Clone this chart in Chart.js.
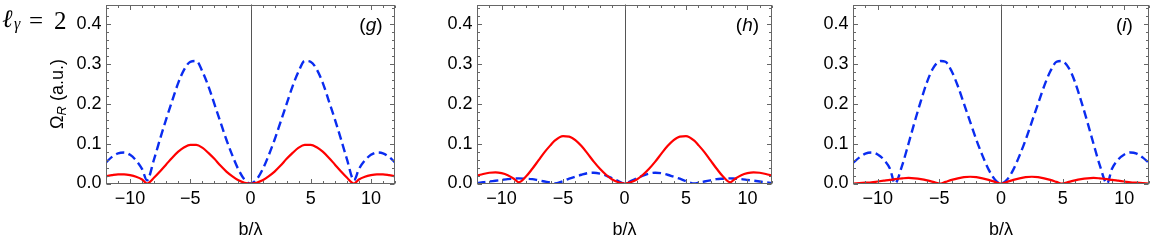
<!DOCTYPE html>
<html><head><meta charset="utf-8">
<script src="https://cdn.jsdelivr.net/npm/chart.js@4"></script>
<style>
html,body{margin:0;padding:0;background:#fff;}
#wrap{position:relative;width:1153px;height:242px;overflow:hidden;font-family:"Liberation Sans",Arial,sans-serif;}
canvas{position:absolute;top:0;}
.lg{position:absolute;font-family:"Liberation Serif","DejaVu Serif",serif;color:#000;line-height:1;white-space:nowrap;}
#yt{position:absolute;left:58px;top:94px;transform:translate(-50%,-50%) rotate(-90deg);font-size:18px;white-space:nowrap;color:#000;}
#yt sub{font-size:13px;font-style:italic;vertical-align:-3px;}
</style>
</head><body>
<div id="wrap">
  <canvas id="c1" width="400" height="242" style="left:0px;width:400px;height:242px"></canvas>
  <canvas id="c2" width="376" height="242" style="left:400px;width:376px;height:242px"></canvas>
  <canvas id="c3" width="377" height="242" style="left:776px;width:377px;height:242px"></canvas>
  <span class="lg" style="left:2px;top:6px;font-size:25px;font-style:italic;">ℓ</span>
  <span class="lg" style="left:14px;top:16px;font-size:16px;font-style:italic;">γ</span>
  <span class="lg" style="left:29px;top:8px;font-size:25px;">=</span>
  <span class="lg" style="left:54px;top:8px;font-size:25px;">2</span>
  <div id="yt">Ω<sub>R</sub> (a.u.)</div>
</div>
<script>
// ---- data ----
const xTickValues = [-10, -5, 0, 5, 10];
const yTickValues = [0, 0.1, 0.2, 0.3, 0.4];
const panelLabels = ['g', 'h', 'i'];

const gX = [-12,-11.5,-11,-10.5,-10,-9.5,-9,-8.6,-8,-7.5,-7,-6.5,-6,-5.5,-5,-4.5,-4,-3.5,-3,-2.5,-2,-1.5,-1,-0.5,0,
            0.5,1,1.5,2,2.5,3,3.5,4,4.5,5,5.5,6,6.5,7,7.5,8,8.6,9,9.5,10,10.5,11,11.5,12];
const gBlue = [0.053,0.067,0.076,0.078,0.072,0.058,0.036,0.008,0.062,0.113,0.162,0.208,0.253,0.287,0.306,0.308,0.282,0.245,0.2,0.155,0.11,0.07,0.035,0.01,0,
               0.01,0.035,0.07,0.11,0.155,0.2,0.245,0.282,0.308,0.306,0.287,0.253,0.208,0.162,0.113,0.062,0.008,0.036,0.058,0.072,0.078,0.076,0.067,0.053];
const gRed = [0.018,0.021,0.023,0.023,0.021,0.017,0.01,0,0.015,0.031,0.048,0.065,0.08,0.091,0.097,0.097,0.09,0.077,0.062,0.045,0.03,0.018,0.008,0.002,0,
              0.002,0.008,0.018,0.03,0.045,0.062,0.077,0.09,0.097,0.097,0.091,0.08,0.065,0.048,0.031,0.015,0,0.01,0.017,0.021,0.023,0.023,0.021,0.018];

const hX = [-12,-11.5,-11,-10.5,-10,-9.5,-9,-8.6,-8,-7.5,-7,-6.5,-6,-5.7,-5,-4.5,-4,-3.5,-3,-2.5,-2,-1.5,-1,-0.5,0,
            0.5,1,1.5,2,2.5,3,3.5,4,4.5,5,5.7,6,6.5,7,7.5,8,8.6,9,9.5,10,10.5,11,11.5,12];
const hBlue = [0.001,0.003,0.005,0.007,0.009,0.011,0.012,0.013,0.012,0.011,0.008,0.005,0.002,0,0.006,0.012,0.017,0.022,0.026,0.027,0.025,0.02,0.013,0.006,0,
               0.006,0.013,0.02,0.025,0.027,0.026,0.022,0.017,0.012,0.006,0,0.002,0.005,0.008,0.011,0.012,0.013,0.012,0.011,0.009,0.007,0.005,0.003,0.001];
const hRed = [0.02,0.024,0.027,0.028,0.026,0.021,0.012,0.003,0.018,0.037,0.058,0.079,0.097,0.107,0.119,0.118,0.109,0.094,0.075,0.055,0.037,0.022,0.01,0.003,0,
              0.003,0.01,0.022,0.037,0.055,0.075,0.094,0.109,0.118,0.119,0.107,0.097,0.079,0.058,0.037,0.018,0.003,0.012,0.021,0.026,0.028,0.027,0.024,0.02];

const iX = [-12,-11.5,-11,-10.5,-10,-9.5,-9,-8.6,-8,-7.5,-7,-6.5,-6,-5.5,-4.9,-4.5,-4,-3.5,-3,-2.5,-2,-1.5,-1,-0.5,0,
            0.5,1,1.5,2,2.5,3,3.5,4,4.5,4.9,5.5,6,6.5,7,7.5,8,8.6,9,9.5,10,10.5,11,11.5,12];
const iBlue = [0.052,0.065,0.075,0.078,0.073,0.06,0.037,0,0.047,0.1,0.155,0.207,0.255,0.29,0.308,0.306,0.282,0.245,0.2,0.155,0.11,0.07,0.035,0.01,0,
               0.01,0.035,0.07,0.11,0.155,0.2,0.245,0.282,0.306,0.308,0.29,0.255,0.207,0.155,0.1,0.047,0,0.037,0.06,0.073,0.078,0.075,0.065,0.052];
const iRed = [0,0.001,0.002,0.003,0.005,0.007,0.009,0.011,0.013,0.014,0.013,0.011,0.008,0.004,0,0.004,0.009,0.013,0.016,0.017,0.016,0.013,0.009,0.004,0,
              0.004,0.009,0.013,0.016,0.017,0.016,0.013,0.009,0.004,0,0.004,0.008,0.011,0.013,0.014,0.013,0.011,0.009,0.007,0.005,0.003,0.002,0.001,0];

// ---- drawing ----
const FONT = '"Liberation Sans", Arial, sans-serif';
const FRAME = '#666666';
const TICK_SIZE = 18;

const framePlugin = {
  id: 'frame',
  beforeDatasetsDraw(chart) {
    const {ctx, chartArea: a, scales: {x}} = chart;
    ctx.save();
    ctx.strokeStyle = '#555555'; ctx.lineWidth = 1;
    const x0 = Math.round(x.getPixelForValue(0)) + 0.5;
    ctx.beginPath(); ctx.moveTo(x0, a.top); ctx.lineTo(x0, a.bottom); ctx.stroke();
    ctx.restore();
  },
  afterDatasetsDraw(chart) {
    const {ctx, chartArea: a, scales: {x, y}} = chart;
    ctx.save();
    ctx.strokeStyle = FRAME; ctx.lineWidth = 1;
    const L = Math.round(a.left) + 0.5, R = Math.round(a.right) - 0.5;
    const T = Math.round(a.top) + 0.5, B = Math.round(a.bottom) - 0.5;
    ctx.strokeRect(L, T, R - L, B - T);
    ctx.beginPath();
    for (let i = -12; i <= 12; i++) {
      const len = (i % 5 === 0) ? 4.5 : 2.5;
      const px = Math.round(x.getPixelForValue(i)) + 0.5;
      ctx.moveTo(px, B); ctx.lineTo(px, B - len);
      ctx.moveTo(px, T); ctx.lineTo(px, T + len);
    }
    for (let k = 0; k <= 22; k++) {
      const v = k * 0.02;
      const len = (k % 5 === 0) ? 4.5 : 2.5;
      const py = Math.round(y.getPixelForValue(v)) + 0.5;
      ctx.moveTo(L, py); ctx.lineTo(L + len, py);
      ctx.moveTo(R, py); ctx.lineTo(R - len, py);
    }
    ctx.stroke();
    // panel label
    const lab = chart.options.plugins.frame.label;
    const cx = x.getPixelForValue(10), cy = y.getPixelForValue(0.4) + 1.5;
    ctx.fillStyle = '#000'; ctx.textBaseline = 'middle';
    ctx.font = '19px ' + FONT;
    const wp = ctx.measureText('(').width;
    ctx.font = 'italic 19px ' + FONT;
    const wl = ctx.measureText(lab).width;
    const w = wp * 2 + wl;
    let sx = cx - w / 2;
    ctx.textAlign = 'left';
    ctx.font = '19px ' + FONT; ctx.fillText('(', sx, cy);
    ctx.font = 'italic 19px ' + FONT; ctx.fillText(lab, sx + wp, cy);
    ctx.font = '19px ' + FONT; ctx.fillText(')', sx + wp + wl, cy);
    ctx.restore();
  }
};

function pts(xs, ys) { return xs.map((v, i) => ({x: v, y: ys[i]})); }
function fmtX(v) { return v < 0 ? '\u2212' + Math.abs(v) : String(v); }

function makeChart(id, xs, blue, red, label, yWidth, padRight) {
  new Chart(document.getElementById(id), {
    type: 'line',
    data: {
      datasets: [
        {data: pts(xs, red), borderColor: '#ff0000', borderWidth: 2.2, pointRadius: 0,
         cubicInterpolationMode: 'monotone', fill: false},
        {data: pts(xs, blue), borderColor: '#0a2cf0', borderWidth: 2.4, borderDash: [8.5, 4.5],
         pointRadius: 0, cubicInterpolationMode: 'monotone', fill: false}
      ]
    },
    options: {
      responsive: false, animation: false, events: [],
      layout: {padding: {top: 4.5, right: padRight, left: 0, bottom: 0}},
      plugins: {legend: {display: false}, tooltip: {enabled: false}, frame: {label: label}},
      scales: {
        x: {
          type: 'linear', min: -12, max: 12,
          afterBuildTicks: s => { s.ticks = xTickValues.map(v => ({value: v})); },
          afterFit: s => { s.height = 58.5; s.paddingLeft = 0; s.paddingRight = 0; },
          grid: {display: false, drawTicks: false}, border: {display: false},
          ticks: {callback: v => fmtX(v), color: '#000', font: {family: FONT, size: TICK_SIZE},
                  padding: 5, maxRotation: 0, autoSkip: false},
          title: {display: true, text: 'b/\u03bb', color: '#000', font: {family: FONT, size: 18},
                  padding: {top: 0, bottom: 1}}
        },
        y: {
          min: 0, max: 0.45,
          afterBuildTicks: s => { s.ticks = yTickValues.map(v => ({value: v})); },
          afterFit: s => { s.width = yWidth; s.paddingTop = 0; s.paddingBottom = 0; },
          grid: {display: false, drawTicks: false}, border: {display: false},
          ticks: {callback: v => v.toFixed(1), color: '#000', font: {family: FONT, size: TICK_SIZE}, padding: 4.5}
        }
      }
    },
    plugins: [framePlugin]
  });
}

makeChart('c1', gX, gBlue, gRed, panelLabels[0], 106, 5);
makeChart('c2', hX, hBlue, hRed, panelLabels[1], 77, 4);
makeChart('c3', iX, iBlue, iRed, panelLabels[2], 77, 4);
</script>
</body></html>
